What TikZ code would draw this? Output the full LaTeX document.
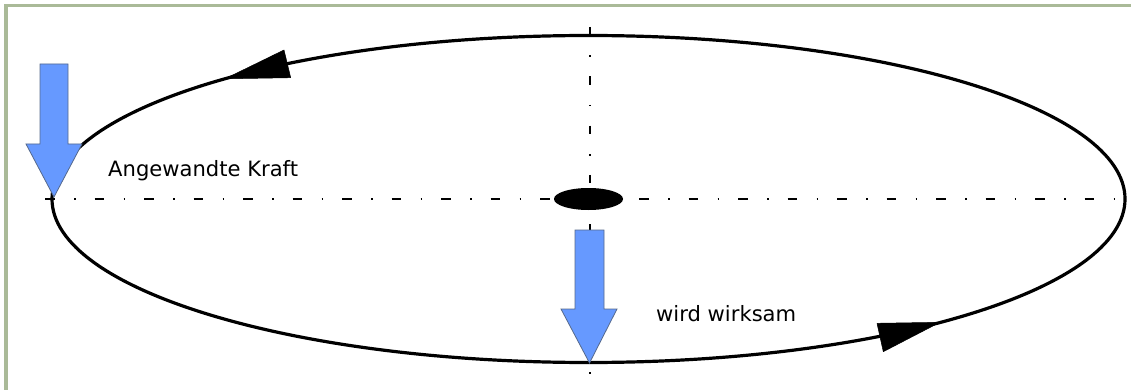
\documentclass[tikz,border=0pt]{standalone}
\usepackage{fontspec}
\newfontfamily\labfont{DejaVu Sans}
\definecolor{framegreen}{RGB}{170,186,152}
\definecolor{forceblue}{RGB}{102,153,255}
\definecolor{forceedge}{RGB}{85,105,140}
\tikzset{
  orbit/.style={line width=3.2pt, black},
  axisline/.style={line width=1.3pt, black},
  forcearrow/.style={fill=forceblue, draw=forceedge, line width=0.8pt, line join=miter},
  dirtip/.style={fill=black, draw=black, line width=0.5pt, line join=round},
  lab/.style={inner sep=0pt, anchor=base west, font=\labfont\fontsize{21.1}{25}\selectfont}
}
\begin{document}
\begin{tikzpicture}[x=1pt,y=-1pt]
\useasboundingbox (0,0) rectangle (1131,390);
\fill[white] (0,0) rectangle (1131,390);
% frame
\begin{scope}
\clip (0,0) rectangle (1131,390);
\draw[framegreen, line width=3.6pt] (6.2,5.7) rectangle (1145,405);
\end{scope}
% axes
\draw[axisline, dash pattern=on 9.5pt off 19.5pt on 1.5pt off 19pt] (45,199) -- (1131,199);
\draw[axisline, dash pattern=on 8.5pt off 20pt on 1.5pt off 19.3pt] (590,27) -- (590,374);
% orbit
\draw[orbit] (588.5,199) ellipse [x radius=536.5, y radius=163.5];
% direction tips on the orbit
\fill[dirtip] (225,78.8) -- (284,50) -- (290.7,77.7) -- cycle;
\fill[dirtip] (940,322.3) -- (877,323.3) -- (883.3,351.7) -- cycle;
% central body
\fill[black] (588.5,199) ellipse [x radius=34.5, y radius=11];
% force arrows
\draw[forcearrow] (40,64) -- (68,64) -- (68,144) -- (82,144) -- (54,197) -- (26,144) -- (40,144) -- cycle;
\draw[forcearrow] (575,230) -- (604,230) -- (604,309) -- (617,309) -- (589.5,363) -- (561,309) -- (575,309) -- cycle;
% labels
\node[lab] (applied) at (108,176) {Angewandte Kraft};
\node[lab] (effective) at (656,321.7) {wird wirksam};
\end{tikzpicture}
\end{document}
